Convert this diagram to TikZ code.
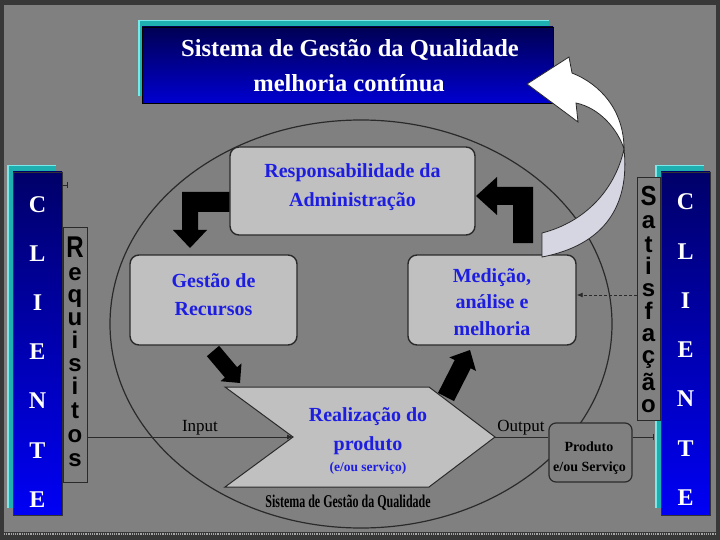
\documentclass[tikz,border=0pt]{standalone}
\usepackage{fontspec}
\setmainfont{Liberation Serif}
\setsansfont{Liberation Sans}
\usetikzlibrary{arrows.meta}
\definecolor{bg}{RGB}{128,128,128}
\definecolor{framec}{RGB}{56,56,56}
\definecolor{boxfill}{RGB}{192,192,192}
\definecolor{boxtext}{RGB}{30,30,225}
\definecolor{navyc}{RGB}{0,0,105}
\definecolor{bbluec}{RGB}{0,0,245}
\definecolor{tealc}{RGB}{30,176,176}
\definecolor{lteal}{RGB}{120,232,232}
\definecolor{ribbonc}{RGB}{214,214,226}
\definecolor{edgec}{RGB}{42,42,42}
\tikzset{
  procbox/.style={draw=edgec, line width=1.4pt, fill=boxfill, rounded corners=9pt, inner sep=0pt},
  proctext/.style={text=boxtext, font=\bfseries\fontsize{20}{20}\selectfont, anchor=base, inner sep=0pt},
  titlebox/.style={draw=black, line width=0.8pt, top color=navyc!80!black, bottom color=bbluec!85!black, minimum width=411pt, minimum height=76pt, inner sep=0pt},
  titletext/.style={text=white, font=\bfseries\fontsize{24.5}{24.5}\selectfont, anchor=base, inner sep=0pt},
  clientebox/.style={draw=black!80, line width=0.6pt, top color=navyc, bottom color=bbluec, minimum width=49pt, minimum height=343pt, inner sep=0pt},
  clienteletter/.style={text=white, font=\bfseries\fontsize{24}{24}\selectfont, anchor=base, inner sep=0pt},
  stackbox/.style={draw=edgec, line width=1pt, fill=bg, inner sep=0pt},
  stackletter/.style={text=black, font=\sffamily\bfseries\fontsize{24}{24}\selectfont, anchor=base, inner sep=0pt},
  smalllabel/.style={text=black, font=\fontsize{17}{17}\selectfont, anchor=base, inner sep=0pt},
  prodtext/.style={text=black, font=\bfseries\fontsize{14}{14}\selectfont, anchor=base, inner sep=0pt},
  connector/.style={draw=edgec, line width=0.9pt},
  blackarrow/.style={fill=black},
}
\begin{document}
\begin{tikzpicture}[x=1pt,y=-1pt]
\useasboundingbox (0,0) rectangle (720,540);
% frame and background
\fill[framec] (0,0) rectangle (720,540);
\fill[bg] (4,5) rectangle (716,532);
\draw[gray!70, densely dotted, line width=1.2pt] (4,534) -- (716,534);

% big ellipse
\draw[edgec, line width=1.2pt] (361,324) ellipse [x radius=251, y radius=204];

% title
\fill[tealc] (138,20) rectangle (549,96);
\draw[lteal, line width=1.5pt] (138.75,96) -- (138.75,20.75) -- (549,20.75);
\node[titlebox] (title) at (347.5,65) {};
\node[titletext] (title1) at (350,57) {Sistema de Gestão da Qualidade};
\node[titletext] (title2) at (349,92) {melhoria contínua};

% left CLIENTE
\fill[tealc] (7,165) rectangle (56,508);
\draw[lteal, line width=1.5pt] (7.75,508) -- (7.75,165.75) -- (56,165.75);
\node[clientebox] (cliL) at (37.5,343.5) {};
\foreach \L [count=\i] in {C,L,I,E,N,T,E}
  \node[clienteletter] (cliL\i) at (37.5,{212+49.2*(\i-1)}) {\L};

% right CLIENTE
\fill[tealc] (655,165) rectangle (704,508);
\draw[lteal, line width=1.5pt] (655.75,508) -- (655.75,165.75) -- (704,165.75);
\node[clientebox] (cliR) at (685.5,343.5) {};
\foreach \L [count=\i] in {C,L,I,E,N,T,E}
  \node[clienteletter] (cliR\i) at (685.5,{210+49.2*(\i-1)}) {\L};

% Requisitos
\node[stackbox, minimum width=24pt, minimum height=254pt] (req) at (75,355) {};
\node[stackletter] (reqR) at (75,257) {\scalebox{1}[1.25]{R}};
\foreach \L/\y [count=\i] in {e/280,q/302,u/325,i/348,s/371,i/394,t/418,o/442,s/466}
  \node[stackletter] (req\i) at (75,\y) {\L};

% Satisfacao
\node[stackbox, minimum width=23pt, minimum height=242pt] (sat) at (648.5,299) {};
\node[stackletter] (satS) at (648.5,206) {\scalebox{1}[1.15]{S}};
\foreach \L/\y [count=\i] in {a/229,t/252,i/274,s/296,f/319,a/341,ç/363,ã/390,o/412}
  \node[stackletter] (sat\i) at (648.5,\y) {\L};

% process boxes
\node[procbox, minimum width=245pt, minimum height=88pt] (resp) at (352.5,191) {};
\node[proctext] (resp1) at (352.5,178) {Responsabilidade da};
\node[proctext] (resp2) at (352.5,207) {Administração};

\node[procbox, minimum width=167pt, minimum height=90pt] (gest) at (213.5,300) {};
\node[proctext] (gest1) at (213.5,287) {Gestão de};
\node[proctext] (gest2) at (213.5,315) {Recursos};

\node[procbox, minimum width=168pt, minimum height=90pt] (med) at (492,300) {};
\node[proctext] (med1) at (492,282) {Medição,};
\node[proctext] (med2) at (492,308.5) {análise e};
\node[proctext] (med3) at (492,335) {melhoria};

% product realisation chevron
\coordinate (notch) at (293,437);
\coordinate (tip) at (495,437);
\draw[fill=boxfill, draw=edgec, line width=1pt]
  (225,387) -- (429,387) -- (tip) -- (429,487) -- (225,487) -- (notch) -- cycle;
\node[proctext] (real1) at (368,421) {Realização do};
\node[proctext] (real2) at (368,450) {produto};
\node[proctext, font=\bfseries\fontsize{13.5}{13.5}\selectfont] (real3) at (368,471) {(e/ou serviço)};
\node[anchor=base, inner sep=0pt, font=\bfseries\fontsize{12}{12}\selectfont] (sgq) at (348,507)
  {\scalebox{1}[1.5]{Sistema de Gestão da Qualidade}};

% Produto box
\node[draw=edgec, line width=1.2pt, fill=bg, rounded corners=7pt, minimum width=83pt, minimum height=59pt, inner sep=0pt] (prod) at (590.5,452.5) {};
\node[prodtext] (prod1) at (589,451) {Produto};
\node[prodtext] (prod2) at (589.5,471) {e/ou Serviço};

% connectors
\node[smalllabel] (inlbl) at (200,431) {Input};
\node[smalllabel] (outlbl) at (521,431) {Output};
\draw[connector, -{Latex[length=6pt,width=5pt]}] (req.east |- notch) -- (notch);
\draw[connector] (tip) -- (prod.west |- tip);
\coordinate (rtick) at (654,437);
\draw[connector, -{Bar[width=6pt]}] (prod.east |- tip) -- (rtick);
\coordinate (ltick) at (68,185);
\draw[connector, -{Bar[width=6pt]}] (cliL.east |- ltick) -- (ltick);
\coordinate (dashy) at (0,295);
\draw[connector, densely dashed, -{Latex[length=6pt,width=5pt]}] (sat.west |- dashy) -- (med.east |- dashy);

% black block arrows
\fill[blackarrow] (resp.west |- 0,192) -- (182,192) -- (182,230) -- (173,230) -- (190,248) -- (207,230) -- (198,230) -- (198,212) -- (resp.west |- 0,212) -- cycle;
\fill[blackarrow] (513,243) -- (533,243) -- (533,187) -- (497,187) -- (497,177) -- (476,196) -- (497,215) -- (497,205) -- (513,205) -- cycle;
\fill[blackarrow] (206.9,356.2) -- (219.1,345.8) -- (237.1,367.2) -- (241.5,363.4) -- (240,383) -- (220.5,381.2) -- (224.9,377.5) -- cycle;
\fill[blackarrow] (454.0,401.1) -- (438.0,392.9) -- (454.7,360.1) -- (449.3,357.4) -- (470,350) -- (476.0,371.0) -- (470.7,368.3) -- cycle;

% curved improvement ribbon
\draw[fill=ribbonc, draw=edgec, line width=0.8pt]
  (624,149) .. controls (630,205) and (605,245) .. (542,257) -- (542,233)
  .. controls (585,222) and (615,190) .. (624,149) -- cycle;
\draw[fill=white, draw=edgec, line width=0.8pt]
  (527,84) -- (569,57) -- (572,73) .. controls (600,84) and (624,110) .. (624,149)
  .. controls (618,130) and (600,108) .. (576,103) -- (578,122) -- cycle;
\end{tikzpicture}
\end{document}
